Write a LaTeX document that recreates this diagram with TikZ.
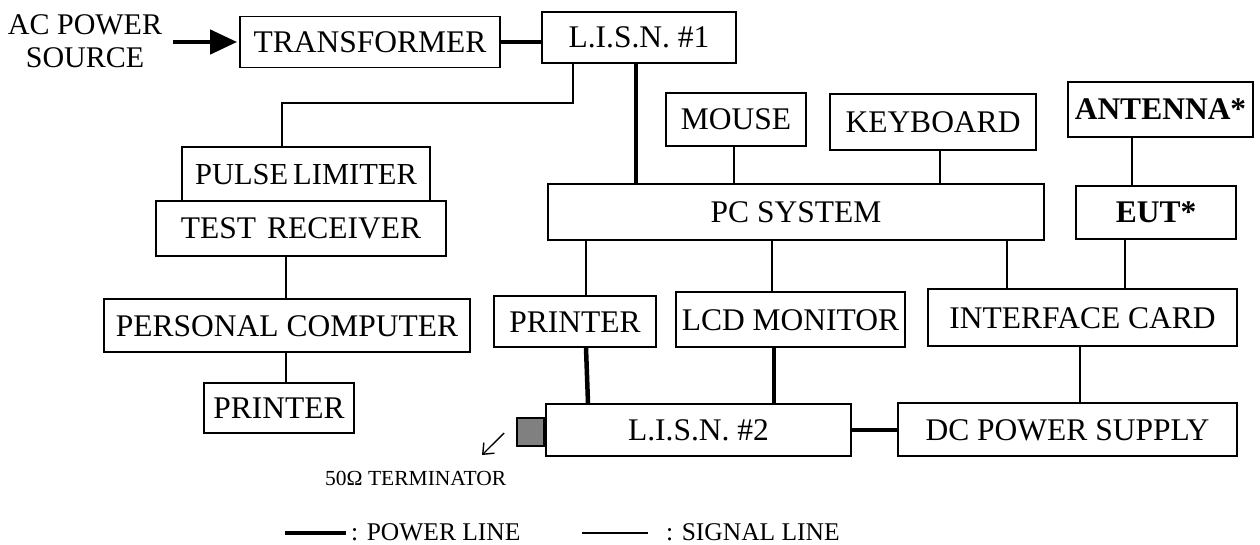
\documentclass[tikz,border=0pt]{standalone}
\usepackage{fontspec}
\setmainfont{Liberation Serif}
\usetikzlibrary{arrows.meta}
\begin{document}
\begin{tikzpicture}[x=1pt,y=-1pt,
  box/.style={draw, line width=1.8pt, inner sep=0pt, font=\fontsize{31.5}{36}\selectfont, text height=21pt, text depth=0pt},
  sig/.style={line width=1.6pt},
  pwr/.style={line width=4.5pt},
  lgd/.style={inner sep=0pt, anchor=base west, font=\fontsize{25.5}{30}\selectfont},
]
\useasboundingbox (0,0) rectangle (1260,545);
% text source
\node[align=center, inner sep=0pt, font=\fontsize{30}{33}\selectfont] (acsrc) at (85,41) {AC POWER\\SOURCE};
% boxes
\node[box, minimum width=260pt, minimum height=51pt] (trans) at (370,42) {TRANSFORMER};
\node[box, minimum width=194pt, minimum height=51pt] (lisn1) at (639,37.5) {L.I.S.N. \#1};
\node[box, minimum width=248pt, minimum height=54pt] (pl) at (306,174) {\fontsize{30.5}{36}\selectfont PULSE\hspace{5pt}LIMITER};
\node[box, minimum width=290pt, minimum height=55pt] (tr) at (301,228.5) {TEST\hspace{11pt}RECEIVER};
\node[box, minimum width=366pt, minimum height=53pt] (pc2) at (287,325.5) {PERSONAL COMPUTER};
\node[box, minimum width=150pt, minimum height=50pt] (prn1) at (279,408) {PRINTER};
\node[box, minimum width=140pt, minimum height=53pt] (mouse) at (736,119.5) {MOUSE};
\node[box, minimum width=206pt, minimum height=56pt] (kbd) at (933,122) {KEYBOARD};
\node[box, minimum width=185pt, minimum height=55pt] (ant) at (1160.5,109.5) {\bfseries ANTENNA*};
\node[box, minimum width=496pt, minimum height=56pt] (pcs) at (796,212) {PC SYSTEM};
\node[box, minimum width=160pt, minimum height=53pt] (eut) at (1156,212.5) {\bfseries EUT*};
\node[box, minimum width=162pt, minimum height=51pt] (prn2) at (575,321.5) {PRINTER};
\node[box, minimum width=229pt, minimum height=55pt] (lcd) at (790.5,319.5) {LCD MONITOR};
\node[box, minimum width=309pt, minimum height=57pt] (ifc) at (1082.5,317.5) {INTERFACE CARD};
\node[box, minimum width=305pt, minimum height=52pt] (lisn2) at (698.5,430) {L.I.S.N. \#2};
\node[box, minimum width=339pt, minimum height=53pt] (dc) at (1067.5,429.5) {DC POWER SUPPLY};
\node[draw, line width=1.8pt, fill=black!50, inner sep=0pt, minimum width=27pt, minimum height=28pt, anchor=east] (term) at ([yshift=-2pt]lisn2.west) {};
% column helpers
\coordinate (x282) at (282,0);
\coordinate (x286) at (286,0);
\coordinate (x573) at (573,0);
\coordinate (x586) at (586,0);
\coordinate (x588) at (588,0);
\coordinate (x636) at (636,0);
\coordinate (x734) at (734,0);
\coordinate (x772) at (772,0);
\coordinate (x774) at (774,0);
\coordinate (x940) at (940,0);
\coordinate (x1007) at (1007,0);
\coordinate (x1080) at (1080,0);
\coordinate (x1125) at (1125,0);
\coordinate (x1132) at (1132,0);
\coordinate (yb) at (0,103);
% connectors
\coordinate (acin) at (173,42);
\draw[pwr, -{Triangle[length=27pt,width=24pt]}, shorten >=2pt] (acin) -- (trans.west);
\draw[pwr] (trans.east) -- (trans.east -| lisn1.west);
\draw[sig] (lisn1.south -| x573) -- (x573 |- yb) -- (x282 |- yb) -- (pl.north -| x282);
\draw[sig] (tr.south -| x286) -- (pc2.north -| x286);
\draw[sig] (pc2.south -| x286) -- (prn1.north -| x286);
\draw[pwr] (lisn1.south -| x636) -- (pcs.north -| x636);
\draw[sig] (mouse.south -| x734) -- (pcs.north -| x734);
\draw[sig] (kbd.south -| x940) -- (pcs.north -| x940);
\draw[sig] (ant.south -| x1132) -- (eut.north -| x1132);
\draw[sig] (pcs.south -| x586) -- (prn2.north -| x586);
\draw[sig] (pcs.south -| x772) -- (lcd.north -| x772);
\draw[sig] (pcs.south -| x1007) -- (ifc.north -| x1007);
\draw[sig] (eut.south -| x1125) -- (ifc.north -| x1125);
\draw[pwr] (prn2.south -| x586) -- (lisn2.north -| x588);
\draw[pwr] (lcd.south -| x774) -- (lisn2.north -| x774);
\draw[sig] (ifc.south -| x1080) -- (dc.north -| x1080);
\draw[pwr] (lisn2.east) -- (lisn2.east -| dc.west);
% terminator label
\coordinate (ta) at (504,433);
\coordinate (tb) at (482,455);
\draw[line width=1.4pt, -{Straight Barb[length=9pt,width=15pt]}] (ta) -- (tb);
\node[inner sep=0pt, anchor=base west, font=\fontsize{21.5}{24}\selectfont] (termlbl) at (325,485) {50Ω TERMINATOR};
% legend
\coordinate (lp1) at (285,533);
\coordinate (lp2) at (346,533);
\draw[pwr] (lp1) -- (lp2);
\node[lgd] (lpt) at (351,540) {: POWER LINE};
\coordinate (ls1) at (582,533);
\coordinate (ls2) at (648,533);
\draw[sig] (ls1) -- (ls2);
\node[lgd] (lst) at (666,540) {: SIGNAL LINE};
\end{tikzpicture}
\end{document}
